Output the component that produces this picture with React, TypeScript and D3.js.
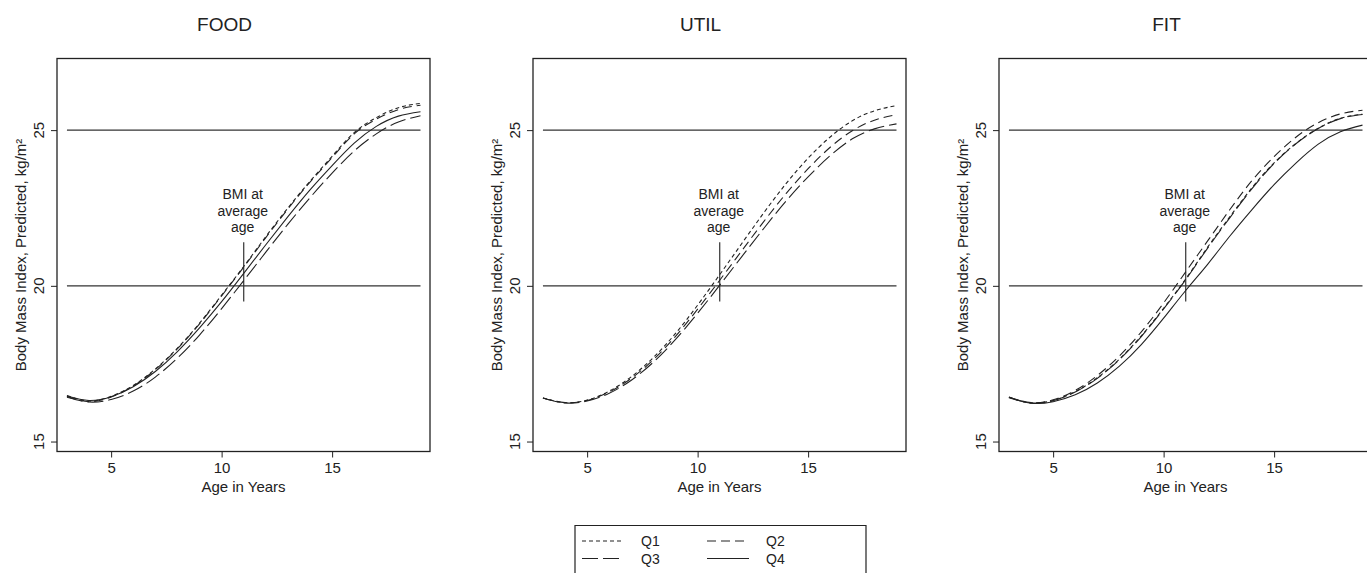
import React, { useEffect, useRef } from "react";
import * as d3 from "d3";

// ages on the x axis
const ages = [3, 4, 5, 6, 7, 8, 9, 10, 11, 12, 13, 14, 15, 16, 17, 18, 19];

// FOOD panel
const foodQ1 = [16.48, 16.30, 16.45, 16.80, 17.33, 18.00, 18.80, 19.70, 20.62, 21.58, 22.50, 23.36, 24.16, 24.92, 25.40, 25.72, 25.86];
const foodQ2 = [16.45, 16.28, 16.43, 16.78, 17.31, 17.98, 18.78, 19.68, 20.60, 21.55, 22.47, 23.33, 24.12, 24.88, 25.35, 25.66, 25.80];
const foodQ3 = [16.42, 16.27, 16.35, 16.62, 17.07, 17.68, 18.42, 19.27, 20.17, 21.08, 21.98, 22.83, 23.62, 24.33, 24.88, 25.26, 25.46];
const foodQ4 = [16.46, 16.32, 16.44, 16.76, 17.25, 17.89, 18.65, 19.49, 20.40, 21.32, 22.22, 23.08, 23.86, 24.58, 25.12, 25.45, 25.59];

// UTIL panel
const utilQ1 = [16.40, 16.25, 16.33, 16.62, 17.08, 17.70, 18.47, 19.38, 20.36, 21.36, 22.35, 23.28, 24.10, 24.78, 25.30, 25.62, 25.79];
const utilQ2 = [16.40, 16.25, 16.32, 16.59, 17.03, 17.63, 18.38, 19.25, 20.18, 21.13, 22.07, 22.96, 23.76, 24.45, 24.98, 25.32, 25.50];
const utilQ3 = [16.40, 16.24, 16.30, 16.55, 16.97, 17.55, 18.28, 19.12, 20.02, 20.94, 21.85, 22.72, 23.50, 24.18, 24.72, 25.04, 25.20];

// FIT panel
const fitQ1 = [16.42, 16.24, 16.32, 16.60, 17.05, 17.65, 18.40, 19.28, 20.22, 21.25, 22.22, 23.15, 23.95, 24.58, 25.06, 25.38, 25.51];
const fitQ2 = [16.43, 16.25, 16.34, 16.64, 17.12, 17.75, 18.53, 19.45, 20.45, 21.45, 22.45, 23.38, 24.15, 24.78, 25.24, 25.52, 25.64];
const fitQ3 = [16.41, 16.24, 16.31, 16.59, 17.03, 17.63, 18.38, 19.26, 20.20, 21.22, 22.19, 23.12, 23.93, 24.57, 25.05, 25.37, 25.50];
const fitQ4 = [16.42, 16.23, 16.28, 16.50, 16.88, 17.42, 18.12, 18.96, 19.85, 20.70, 21.60, 22.45, 23.25, 23.95, 24.55, 24.95, 25.16];

const panelTitles = ["FOOD", "UTIL", "FIT"];
const xTicks = [5, 10, 15];
const yTicks = [15, 20, 25];
const refLevels = [20, 25];
const averageAge = 11;
const legendKeys = ["Q1", "Q2", "Q3", "Q4"];

const FONT = "'Liberation Sans', Arial, Helvetica, sans-serif";
const INK = "#222";

const dashes: Record<string, string | null> = {
  Q1: "4,3",
  Q2: "9,5",
  Q3: "16,5",
  Q4: null,
};

export default function App() {
  const ref = useRef<SVGSVGElement>(null);

  useEffect(() => {
    const svg = d3.select(ref.current);
    svg.selectAll("*").remove();

    const panels = [
      { title: panelTitles[0], left: 57, series: { Q1: foodQ1, Q2: foodQ2, Q3: foodQ3, Q4: foodQ4 } },
      { title: panelTitles[1], left: 533, series: { Q1: utilQ1, Q2: utilQ2, Q3: utilQ3 } },
      { title: panelTitles[2], left: 999, series: { Q1: fitQ1, Q2: fitQ2, Q3: fitQ3, Q4: fitQ4 } },
    ];

    const boxW = 373;
    const top = 58.5;
    const bottom = 451.5;

    panels.forEach((p) => {
      const x = d3.scaleLinear().domain([2.55, 19.43]).range([p.left, p.left + boxW]);
      const y = d3.scaleLinear().domain([14.68, 27.3]).range([bottom, top]);
      const g = svg.append("g");

      // title
      g.append("text")
        .attr("x", p.left + boxW / 2 - 19)
        .attr("y", 30.5)
        .attr("text-anchor", "middle")
        .style("font-family", FONT)
        .style("font-size", "19px")
        .style("fill", INK)
        .text(p.title);

      // frame
      g.append("rect")
        .attr("x", p.left)
        .attr("y", top)
        .attr("width", boxW)
        .attr("height", bottom - top)
        .attr("fill", "none")
        .attr("stroke", INK)
        .attr("stroke-width", 1.3);

      // x axis
      const xAxis = g.append("g")
        .attr("transform", `translate(0,${bottom})`)
        .call(d3.axisBottom(x).tickValues(xTicks).tickSize(6).tickPadding(5));
      xAxis.select(".domain").remove();
      xAxis.selectAll("line").attr("stroke", INK);
      xAxis.selectAll("text")
        .style("font-family", FONT)
        .style("font-size", "15px")
        .style("fill", INK);

      // y axis
      const yAxis = g.append("g")
        .attr("transform", `translate(${p.left},0)`)
        .call(d3.axisLeft(y).tickValues(yTicks).tickSize(6).tickFormat(() => ""));
      yAxis.select(".domain").remove();
      yAxis.selectAll("line").attr("stroke", INK);
      yTicks.forEach((t) => {
        g.append("text")
          .attr("transform", `translate(${p.left - 18},${y(t)}) rotate(-90)`)
          .attr("text-anchor", "middle")
          .attr("dy", "0.35em")
          .style("font-family", FONT)
          .style("font-size", "15px")
          .style("fill", INK)
          .text(String(t));
      });

      g.append("text")
        .attr("x", p.left + boxW / 2)
        .attr("y", 492)
        .attr("text-anchor", "middle")
        .style("font-family", FONT)
        .style("font-size", "15px")
        .style("fill", INK)
        .text("Age in Years");

      g.append("text")
        .attr("transform", `translate(${p.left - 36},${(top + bottom) / 2}) rotate(-90)`)
        .attr("text-anchor", "middle")
        .attr("dy", "0.35em")
        .style("font-family", FONT)
        .style("font-size", "15px")
        .style("fill", INK)
        .text("Body Mass Index, Predicted, kg/m²");

      // reference lines
      refLevels.forEach((lv) => {
        g.append("line")
          .attr("x1", x(ages[0]))
          .attr("x2", x(ages[ages.length - 1]))
          .attr("y1", y(lv))
          .attr("y2", y(lv))
          .attr("stroke", "#333")
          .attr("stroke-width", 1.2);
      });

      // average age marker
      g.append("line")
        .attr("x1", x(averageAge))
        .attr("x2", x(averageAge))
        .attr("y1", y(21.4))
        .attr("y2", y(19.5))
        .attr("stroke", "#333")
        .attr("stroke-width", 1.2);

      ["BMI at", "average", "age"].forEach((s, i) => {
        g.append("text")
          .attr("x", x(averageAge) - 1)
          .attr("y", y(21.4) - 43 + i * 16.5)
          .attr("text-anchor", "middle")
          .style("font-family", FONT)
          .style("font-size", "14px")
          .style("fill", INK)
          .text(s);
      });

      // curves
      const line = d3.line<number>()
        .x((_, i) => x(ages[i]))
        .y((d) => y(d))
        .curve(d3.curveNatural);

      Object.entries(p.series).forEach(([key, vals]) => {
        const path = g.append("path")
          .attr("d", line(vals as number[]))
          .attr("fill", "none")
          .attr("stroke", INK)
          .attr("stroke-width", 1.1);
        if (dashes[key]) path.attr("stroke-dasharray", dashes[key] as string);
      });
    });

    // legend
    const lg = svg.append("g");
    const lgLeft = 575;
    const lgTop = 525.5;
    const lgRight = 866;
    lg.append("path")
      .attr("d", `M${lgLeft},580 L${lgLeft},${lgTop} L${lgRight},${lgTop} L${lgRight},580`)
      .attr("fill", "none")
      .attr("stroke", INK)
      .attr("stroke-width", 1.2);

    legendKeys.forEach((key, i) => {
      const col = i % 2;
      const row = Math.floor(i / 2);
      const x0 = col === 0 ? 582 : 707;
      const yy = row === 0 ? 541 : 558.5;
      const seg = lg.append("line")
        .attr("x1", x0)
        .attr("x2", x0 + 42)
        .attr("y1", yy)
        .attr("y2", yy)
        .attr("stroke", INK)
        .attr("stroke-width", 1.1);
      if (dashes[key]) seg.attr("stroke-dasharray", dashes[key] as string);
      lg.append("text")
        .attr("x", x0 + 59)
        .attr("y", yy)
        .attr("dy", "0.36em")
        .style("font-family", FONT)
        .style("font-size", "14px")
        .style("fill", INK)
        .text(key);
    });
  }, []);

  return (
    <svg
      ref={ref}
      width={1367}
      height={573}
      style={{ position: "absolute", left: 0, top: 0, background: "#fff" }}
    />
  );
}
